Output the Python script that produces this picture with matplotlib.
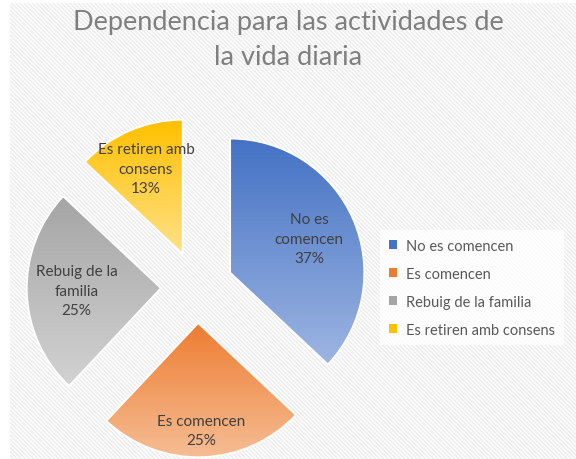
import matplotlib
matplotlib.use("Agg")
import matplotlib.pyplot as plt
import matplotlib.patches as mpatches
import numpy as np
from matplotlib.colors import LinearSegmentedColormap

categories = ["No es comencen", "Es comencen", "Rebuig de la familia", "Es retiren amb consens"]
values = [37, 25, 25, 13]
pct_labels = ["37%", "25%", "25%", "13%"]
slice_texts = ["No es\ncomencen", "Es comencen", "Rebuig de la\nfamilia", "Es retiren amb\nconsens"]
title = "Dependencia para las actividades de\nla vida diaria"

top_colors = ["#4472C4", "#ED7D31", "#A5A5A5", "#FFC000"]
bottom_colors = ["#9DB5E2", "#F6BD94", "#D2D2D2", "#FFE189"]
label_dist = [0.64, 0.80, 0.63, 0.69]

plt.rcParams['font.family'] = ['Lato', 'DejaVu Sans']
plt.rcParams['hatch.color'] = '#ebebeb'
plt.rcParams['hatch.linewidth'] = 1.0

W, H = 576, 460
fig = plt.figure(figsize=(W / 100, H / 100), dpi=100)
fig.patch.set_facecolor('white')

# hatched chart-area background
bg = mpatches.Rectangle((10 / W, 0), 1 - 10 / W, 1 - 4 / H, transform=fig.transFigure,
                        facecolor='white', edgecolor='#ebebeb', hatch='\\\\\\\\\\\\\\\\', lw=0, zorder=-5)
fig.patches.append(bg)

R = 134.0
cx, cy = 197.0, 288.0
ax = fig.add_axes([0, 0, 1, 1])
ax.axis('off')
ax.patch.set_alpha(0)
ax.set_zorder(2)

explode = [0.27] * len(values)
wedges, _ = ax.pie(values, startangle=90, counterclock=False, explode=explode,
                   radius=1.0, center=(0, 0),
                   wedgeprops=dict(edgecolor='white', linewidth=1.2))

for i, w in enumerate(wedges):
    w.set_facecolor('none')
    w.set_zorder(3)
    bb = w.get_path().get_extents(w.get_patch_transform())
    cmap = LinearSegmentedColormap.from_list('g%d' % i, [bottom_colors[i], top_colors[i]])
    grad = np.linspace(0, 1, 256).reshape(-1, 1)
    im = ax.imshow(grad, cmap=cmap, origin='lower', aspect='auto',
                   extent=[bb.x0, bb.x1, bb.y0, bb.y1], zorder=2, interpolation='bilinear')
    clip = mpatches.Wedge(w.center, w.r, w.theta1, w.theta2, transform=ax.transData,
                          facecolor='none', edgecolor='none')
    ax.add_patch(clip)
    im.set_clip_path(clip)
    mid = np.deg2rad((w.theta1 + w.theta2) / 2)
    x = w.center[0] + label_dist[i] * np.cos(mid)
    y = w.center[1] + label_dist[i] * np.sin(mid)
    ax.text(x, y, slice_texts[i] + "\n" + pct_labels[i], ha='center', va='center',
            fontsize=11, color='#404040', linespacing=1.5, zorder=5)

ax.set_xlim(-cx / R, (W - cx) / R)
ax.set_ylim(-(H - cy) / R, cy / R)
ax.set_aspect('equal')

fig.text(0.5, 1 - 40 / H, title, ha='center', va='center', fontsize=19.5,
         color='#7f7f7f', linespacing=1.5)

handles = [mpatches.Patch(facecolor=top_colors[i], edgecolor='none') for i in range(len(categories))]
leg = fig.legend(handles, categories, loc='upper left', bbox_to_anchor=(373 / W, 1 - 224 / H),
                 frameon=True, fontsize=10.5, handlelength=0.55, handleheight=0.55,
                 handletextpad=0.6, labelspacing=0.95, borderpad=0.6, fancybox=False)
leg.get_frame().set_facecolor('white')
leg.get_frame().set_edgecolor('none')
for t in leg.get_texts():
    t.set_color('#595959')

fig.savefig('out.png', dpi=100)
